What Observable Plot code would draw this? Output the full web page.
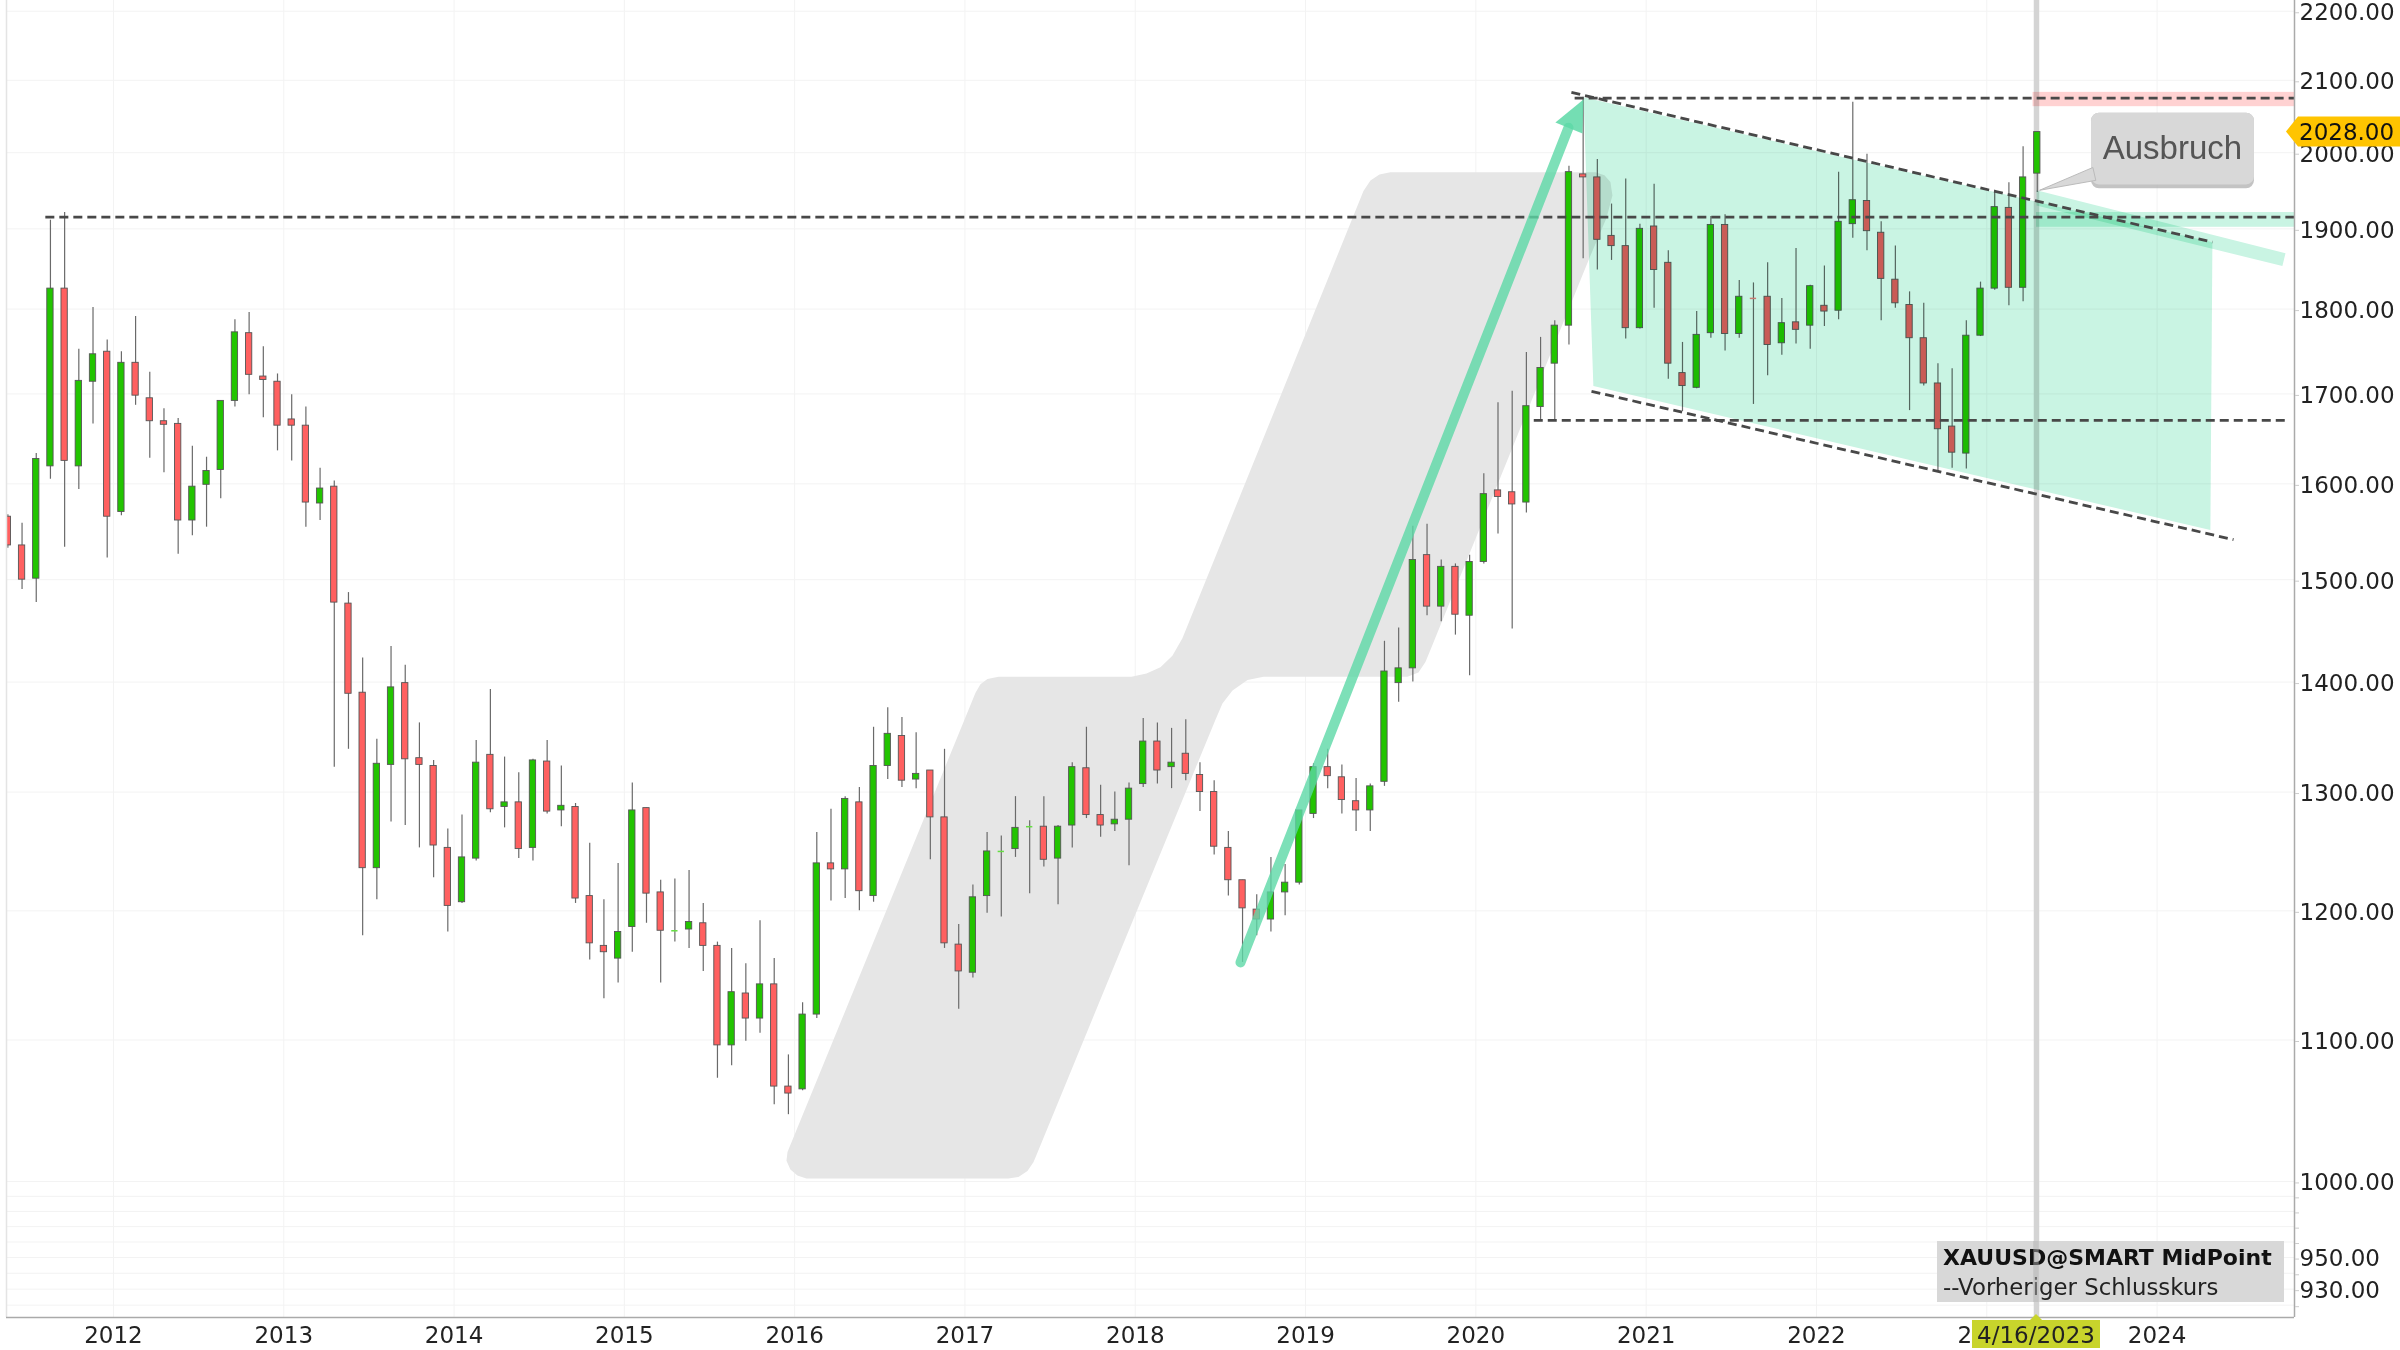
<!DOCTYPE html>
<html><head><meta charset="utf-8">
<style>html,body{margin:0;padding:0;background:#fff;overflow:hidden}svg{display:block}</style>
<script src="https://cdn.jsdelivr.net/npm/d3@7"></script>
<script src="https://cdn.jsdelivr.net/npm/@observablehq/plot@0.6"></script>
</head><body><div id="chart"></div>
<script>
// Monthly candles, May 2011 .. Apr 2023
const firstCandleYear = 2011.38;
const high = [1567,1558,1633,1911,1921,1752,1802,1763,1749,1791,
1725,1683,1672,1641,1629,1692,1787,1796,1755,1723,
1699,1685,1617,1603,1487,1423,1347,1434,1416,1362,
1328,1268,1280,1346,1393,1331,1317,1329,1346,1323,
1290,1256,1209,1239,1308,1286,1225,1226,1233,1206,
1175,1170,1158,1192,1162,1089,1128,1265,1285,1296,
1304,1358,1376,1367,1353,1319,1338,1189,1221,1265,
1262,1296,1275,1296,1271,1326,1358,1306,1300,1308,
1366,1362,1357,1365,1326,1310,1266,1225,1213,1244,
1238,1284,1325,1338,1324,1312,1307,1439,1452,1555,
1557,1520,1516,1525,1611,1690,1703,1748,1766,1786,
1982,2076,1991,1932,1965,1906,1958,1872,1760,1797,
1916,1918,1835,1832,1857,1813,1875,1829,1853,1974,
2069,1998,1909,1878,1821,1807,1735,1729,1786,1833,
1950,1960,2008,2028];
const low = [1532,1490,1477,1605,1533,1594,1666,1522,1566,1687,
1628,1612,1526,1545,1554,1584,1685,1699,1673,1636,
1625,1554,1561,1322,1338,1180,1209,1274,1271,1252,
1227,1183,1206,1241,1282,1269,1243,1241,1281,1270,
1206,1161,1131,1143,1167,1190,1143,1175,1170,1152,
1072,1081,1099,1105,1053,1046,1063,1116,1208,1210,
1200,1207,1311,1304,1303,1242,1170,1123,1147,1198,
1195,1244,1214,1236,1205,1252,1277,1261,1266,1237,
1304,1307,1303,1310,1283,1246,1212,1159,1180,1183,
1196,1221,1277,1303,1281,1266,1266,1305,1381,1400,
1464,1458,1445,1406,1516,1547,1451,1569,1671,1671,
1757,1862,1848,1860,1764,1776,1801,1717,1680,1706,
1765,1750,1765,1688,1721,1745,1758,1752,1779,1787,
1888,1872,1786,1801,1681,1709,1613,1617,1616,1767,
1823,1804,1809,1947];
const open = [1565,1535,1501,1619,1825,1619,1714,1749,1570,1736,
1695,1669,1666,1561,1599,1615,1692,1771,1720,1714,
1671,1664,1579,1597,1476,1390,1235,1324,1399,1330,
1323,1252,1207,1243,1333,1287,1291,1252,1327,1284,
1287,1212,1172,1162,1187,1286,1215,1183,1185,1190,
1172,1096,1135,1116,1142,1066,1064,1119,1239,1234,
1291,1212,1323,1350,1311,1319,1278,1173,1151,1212,
1248,1251,1269,1270,1243,1271,1321,1280,1272,1276,
1307,1345,1322,1334,1315,1300,1252,1225,1201,1193,
1215,1223,1281,1322,1313,1292,1284,1309,1399,1413,
1525,1473,1513,1464,1518,1593,1591,1580,1685,1735,
1780,1971,1967,1891,1878,1777,1903,1857,1724,1707,
1771,1905,1770,1814,1815,1759,1784,1780,1804,1798,
1906,1936,1895,1836,1805,1765,1712,1663,1633,1768,
1825,1927,1826,1972];
const close = [1535,1500,1627,1825,1625,1715,1746,1565,1736,1698,
1669,1665,1561,1597,1614,1692,1772,1722,1716,1664,
1664,1580,1595,1477,1389,1235,1325,1395,1329,1324,
1254,1204,1244,1326,1285,1291,1251,1328,1283,1288,
1210,1174,1167,1183,1284,1214,1184,1184,1191,1172,
1096,1136,1116,1142,1066,1061,1119,1239,1234,1294,
1216,1323,1352,1310,1316,1278,1174,1152,1211,1249,
1249,1269,1270,1242,1270,1322,1280,1271,1276,1303,
1345,1319,1326,1316,1300,1253,1225,1202,1193,1215,
1223,1284,1322,1314,1293,1284,1305,1410,1413,1520,
1473,1513,1465,1518,1589,1586,1578,1686,1730,1780,
1974,1967,1886,1878,1777,1900,1848,1735,1709,1769,
1905,1770,1815,1813,1757,1783,1775,1828,1797,1909,
1937,1897,1837,1807,1765,1712,1660,1634,1768,1825,
1928,1826,1967,2028];

const yearTicks = [2012,2013,2014,2015,2016,2017,2018,2019,2020,2021,2022,2023,2024];
const priceLabels = [2200,2100,2000,1900,1800,1700,1600,1500,1400,1300,1200,1100,1000,950,930];
const priceMinor = [990,980,970,960,940,920];

// Annotations, in (year, price)
const bandYear  = [2015.958,2015.952,2015.975,2016.016,2016.069,2016.122,2017.255,2017.314,2017.367,2017.402,2017.42,2018.471,2018.512,2018.571,2018.659,2018.753,2019.598,2019.663,2019.704,2019.739,2020.661,2020.767,2020.802,2020.79,2020.755,2020.702,2019.498,2019.434,2019.381,2019.34,2018.277,2018.218,2018.148,2018.066,2017.978,2017.197,2017.132,2017.091,2017.062];
const bandPrice = [1020,1014,1008,1004,1002,1002,1002,1003,1007,1013,1018,1365,1380,1392,1402,1405,1405,1409,1419,1433,1860,1914,1943,1961,1970,1974,1974,1971,1963,1949,1442,1425,1414,1408,1405,1405,1403,1398,1390];
const channelYear  = [2020.632,2024.325,2024.313,2020.69];
const channelPrice = [2076,1883,1551,1709];
const trendLines = [
  {x1:2011.6, x2:2024.807, y1:1915, y2:1915},
  {x1:2020.58, x2:2024.807, y1:2075, y2:2075},
  {x1:2020.34, x2:2024.77, y1:1670, y2:1670},
  {x1:2020.561, x2:2024.325, y1:2083, y2:1883},
  {x1:2020.679, x2:2024.449, y1:1703, y2:1541}
];
const arrowYear = [2018.618,2020.544];
const arrowPrice = [1159,2034];
const headYear = [2020.632,2020.467,2020.626];
const headPrice = [2073,2041,2026];
const retestYear = [2023.292,2024.754,2024.736,2023.292];
const retestPrice = [1950,1869,1853,1930];
const calloutYear = [2023.621,2023.31,2023.638];
const calloutPrice = [1980,1950,1963];
const crossYear = 2023.292;
const lastPrice = 2028;
const cursorLabel = "4/16/2023";
const legendLines = ["XAUUSD@SMART MidPoint","--Vorheriger Schlusskurs"];

const candles = open.map((o,i)=>({x:firstCandleYear+i/12,o,c:close[i],h:high[i],l:low[i],up:close[i]>=o}));
const doji = candles.filter(d=>Math.abs(d.o-d.c)<2);
const bodies = candles.filter(d=>Math.abs(d.o-d.c)>=2);
const zip=(a,b)=>a.map((x,i)=>({x,y:b[i]}));
const halfW = 0.0185;
const green="#22c400", red="#ff6060", mintTint="#c9f4e3";

function svgEl(name,attrs,text){
  const e=document.createElementNS("http://www.w3.org/2000/svg",name);
  for(const k in attrs)e.setAttribute(k,attrs[k]);
  if(text!=null)e.textContent=text;
  return e;
}
const overlay=(index,{x,y})=>{
  const g=svgEl("g",{"text-anchor":"start"});
  // price tag
  const py=y(lastPrice);
  g.append(svgEl("path",{d:`M2286 ${py} L2298 ${py-15} H2400 V${py+15} H2298 Z`,fill:"#ffc400"}));
  g.append(svgEl("text",{x:2299,y:py,"dominant-baseline":"central","font-size":23,fill:"#111"},lastPrice.toFixed(2)));
  // date cursor
  const cx=x(crossYear);
  g.append(svgEl("path",{d:`M${cx-6} 1320 L${cx} 1314 L${cx+6} 1320 Z`,fill:"#c8d42c"}));
  g.append(svgEl("rect",{x:cx-64,y:1320,width:128,height:28,fill:"#c8d42c"}));
  g.append(svgEl("text",{x:cx,y:1335,"text-anchor":"middle","dominant-baseline":"central","font-size":23,fill:"#222"},cursorLabel));
  // legend
  g.append(svgEl("rect",{x:1937,y:1241,width:347,height:61,fill:"#d8d8d8"}));
  g.append(svgEl("text",{x:1943,y:1257,"dominant-baseline":"central","font-size":22,"font-weight":"bold",fill:"#111"},legendLines[0]));
  g.append(svgEl("text",{x:1943,y:1287,"dominant-baseline":"central","font-size":22.8,fill:"#222"},legendLines[1]));
  g.append(svgEl("line",{x1:cx,x2:cx,y1:1241,y2:1302,stroke:"#b0b0b0","stroke-width":5.5,"stroke-opacity":0.5}));
  return g;
};

const chart = Plot.plot({
  width:2400,height:1350,marginTop:0,marginBottom:33,marginLeft:6,marginRight:106,
  style:{fontFamily:"'DejaVu Sans',sans-serif",background:"#fff",color:"#222"},
  x:{type:"linear",domain:[2011.372,2024.807]},
  y:{type:"log",domain:[912.4,2216]},
  marks:[
    Plot.gridX(yearTicks,{stroke:"#f3f3f3",strokeOpacity:1}),
    Plot.gridY([...priceLabels,...priceMinor],{stroke:"#f3f3f3",strokeOpacity:1}),
    Plot.line(zip(bandYear,bandPrice),{x:"x",y:"y",fill:"#e6e6e6",stroke:"none",curve:"linear-closed"}),
    Plot.ruleX([crossYear],{stroke:"#d4d4d4",strokeWidth:5.5}),
    Plot.ruleX(candles,{x:"x",y1:"l",y2:"h",stroke:"#6a6a6a",strokeWidth:1.2,clip:true}),
    Plot.rect(bodies,{x1:d=>d.x-halfW,x2:d=>d.x+halfW,y1:"o",y2:"c",fill:d=>d.up?green:red,stroke:"#555",strokeWidth:0.9,clip:true}),
    Plot.ruleY(doji,{x1:d=>d.x-halfW,x2:d=>d.x+halfW,y:"c",stroke:d=>d.up?"#66dd44":"#ff8080",strokeWidth:1.5}),
    Plot.line(zip(channelYear,channelPrice),{x:"x",y:"y",fill:mintTint,stroke:"none",curve:"linear-closed",mixBlendMode:"multiply"}),
    Plot.rect([0],{x1:crossYear-0.02,x2:2024.807,y1:2063,y2:2083,fill:"#ffd2d2",mixBlendMode:"multiply"}),
    Plot.rect([0],{x1:crossYear,x2:2024.807,y1:1902,y2:1921,fill:mintTint,mixBlendMode:"multiply"}),
    Plot.line(zip(retestYear,retestPrice),{x:"x",y:"y",fill:mintTint,stroke:"none",curve:"linear-closed",mixBlendMode:"multiply"}),
    Plot.link(trendLines,{x1:"x1",x2:"x2",y1:"y1",y2:"y2",stroke:"#484848",strokeWidth:2.8,strokeDasharray:"9,5"}),
    Plot.line(zip(arrowYear,arrowPrice),{x:"x",y:"y",stroke:"#5cd8a6",strokeOpacity:0.8,strokeWidth:10,strokeLinecap:"round"}),
    Plot.line(zip(headYear,headPrice),{x:"x",y:"y",fill:"#5cd8a6",fillOpacity:0.85,stroke:"none",curve:"linear-closed"}),
    Plot.ruleX([2011.372],{stroke:"#e4e4e4",strokeWidth:1.5}),
    Plot.ruleX([2024.807],{stroke:"#aaa",strokeWidth:1.5}),
    Plot.ruleY([912.4],{stroke:"#aaa",strokeWidth:1.5}),
    Plot.axisY([...priceLabels,...priceMinor],{anchor:"right",label:null,tickSize:4,tickPadding:1,fontSize:23,dy:1.5,stroke:"#ccc",fill:"#222",
      tickFormat:d=>priceLabels.includes(d)?d.toFixed(2):""}),
    Plot.axisX(yearTicks,{anchor:"bottom",label:null,tickSize:0,tickPadding:9,fontSize:23,fill:"#222",tickFormat:d=>String(d)}),
    // callout
    Plot.rect([0],{x1:2023.615,x2:2024.572,y1:1952,y2:2054,fill:"#aaa",fillOpacity:0.7,rx:8}),
    Plot.rect([0],{x1:2023.615,x2:2024.572,y1:1957,y2:2054,fill:"#d8d8d8",rx:8}),
    Plot.line(zip(calloutYear,calloutPrice),{x:"x",y:"y",fill:"#d8d8d8",stroke:"#bbb",strokeWidth:1,curve:"linear-closed"}),
    Plot.text(["Ausbruch"],{x:2024.09,y:2006,text:d=>d,fontSize:33,fill:"#555",fontFamily:"'Liberation Sans',Arial,sans-serif"}),
    overlay
  ]
});
document.getElementById("chart").append(chart);
</script></body></html>
